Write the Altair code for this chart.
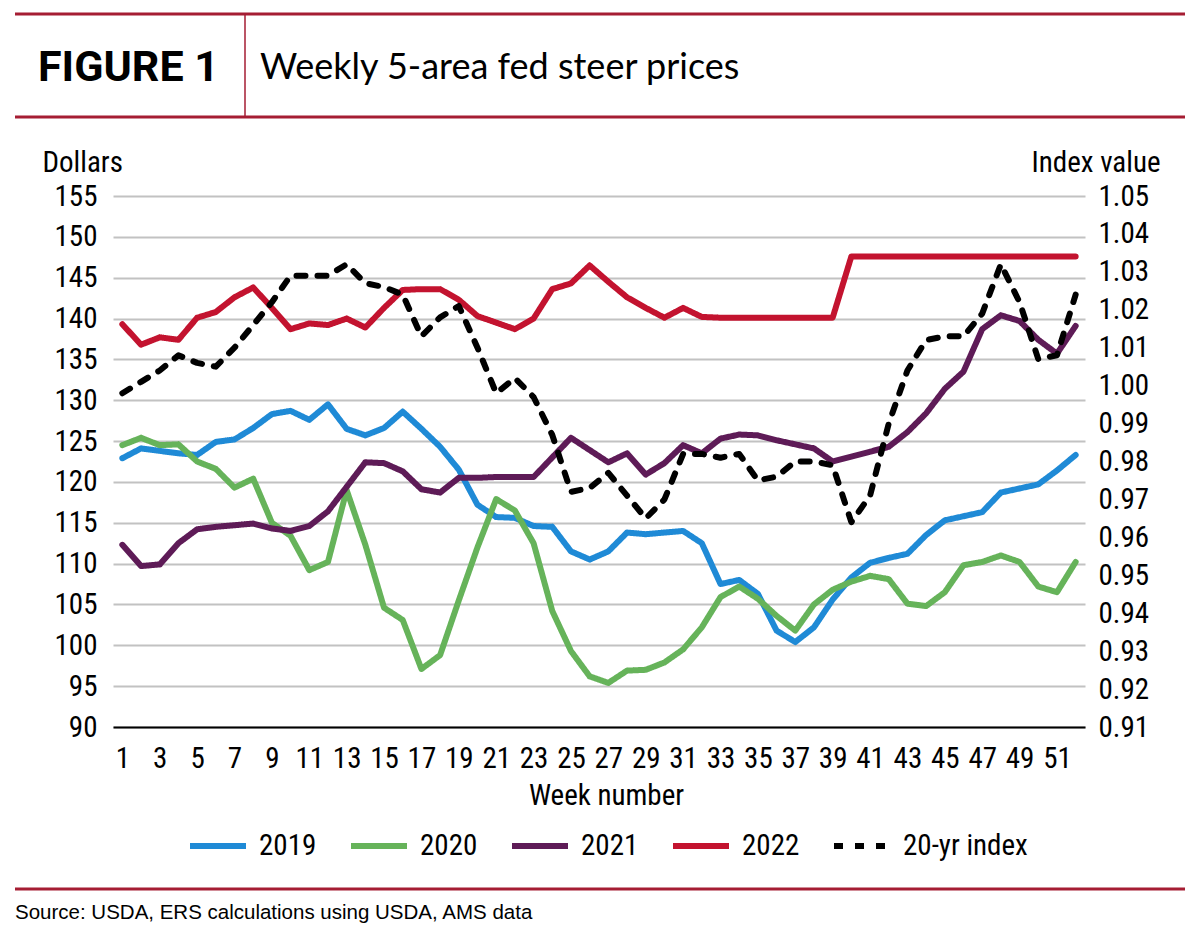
import altair as alt
import pandas as pd

# ---------------- data ----------------
weeks = list(range(1, 53))

prices_2019 = [122.9, 124.1, 123.8, 123.5, 123.3, 124.9, 125.2, 126.6, 128.3, 128.7,
               127.6, 129.5, 126.5, 125.7, 126.6, 128.6, 126.5, 124.3, 121.5, 117.2,
               115.7, 115.6, 114.6, 114.5, 111.5, 110.5, 111.5, 113.8, 113.6, 113.8,
               114.0, 112.5, 107.5, 108.0, 106.3, 101.8, 100.4, 102.2, 105.6, 108.3,
               110.1, 110.7, 111.2, 113.5, 115.3, 115.8, 116.3, 118.7, 119.2, 119.7,
               121.4, 123.3]
prices_2020 = [124.5, 125.4, 124.5, 124.6, 122.5, 121.6, 119.3, 120.4, 115.0, 113.4,
               109.2, 110.2, 119.0, 112.3, 104.6, 103.1, 97.1, 98.8, 105.5, 112.0,
               117.9, 116.5, 112.5, 104.2, 99.3, 96.2, 95.4, 96.9, 97.0, 97.9,
               99.5, 102.2, 105.9, 107.2, 105.7, 103.6, 101.8, 105.0, 106.8, 107.8,
               108.5, 108.1, 105.1, 104.8, 106.5, 109.8, 110.2, 111.0, 110.2, 107.2,
               106.5, 110.2]
prices_2021 = [112.3, 109.7, 109.9, 112.5, 114.2, 114.5, 114.7, 114.9, 114.3, 114.0,
               114.6, 116.4, 119.4, 122.4, 122.3, 121.3, 119.1, 118.7, 120.5, 120.5,
               120.6, 120.6, 120.6, 123.0, 125.4, 123.9, 122.4, 123.5, 120.9, 122.3,
               124.5, 123.5, 125.3, 125.8, 125.7, 125.1, 124.6, 124.1, 122.5, 123.1,
               123.7, 124.3, 126.1, 128.4, 131.4, 133.5, 138.7, 140.4, 139.7, 137.4,
               135.7, 139.1]
prices_2022 = [139.3, 136.8, 137.7, 137.4, 140.1, 140.8, 142.6, 143.8, 141.3, 138.7,
               139.4, 139.2, 140.0, 138.9, 141.3, 143.5, 143.6, 143.6, 142.3, 140.3,
               139.5, 138.7, 140.0, 143.6, 144.3, 146.5, 144.5, 142.6, 141.3, 140.1,
               141.3, 140.2, 140.1, 140.1, 140.1, 140.1, 140.1, 140.1, 140.1, 147.6,
               147.6, 147.6, 147.6, 147.6, 147.6, 147.6, 147.6, 147.6, 147.6, 147.6,
               147.6, 147.6]
index_20yr = [0.998, 1.001, 1.004, 1.008, 1.006, 1.005, 1.010, 1.016, 1.022, 1.029,
              1.029, 1.029, 1.032, 1.027, 1.026, 1.024, 1.013, 1.018, 1.021, 1.010,
              0.998, 1.002, 0.997, 0.987, 0.972, 0.973, 0.977, 0.971, 0.965, 0.970,
              0.982, 0.982, 0.981, 0.982, 0.975, 0.976, 0.980, 0.980, 0.979, 0.964,
              0.971, 0.990, 1.004, 1.012, 1.013, 1.013, 1.019, 1.032, 1.022, 1.007,
              1.008, 1.024]

series_names = ["2019", "2020", "2021", "2022", "20-yr index"]
series_colors = ["#1f8ad6", "#66b35a", "#5e1b57", "#c3132f", "#000000"]
series_dashes = [[1, 0], [1, 0], [1, 0], [1, 0], [9, 12]]

week_ticks = [1, 3, 5, 7, 9, 11, 13, 15, 17, 19, 21, 23, 25, 27, 29, 31, 33, 35,
              37, 39, 41, 43, 45, 47, 49, 51]
dollar_ticks = [90, 95, 100, 105, 110, 115, 120, 125, 130, 135, 140, 145, 150, 155]
index_ticks = [0.91, 0.92, 0.93, 0.94, 0.95, 0.96, 0.97, 0.98, 0.99, 1.00,
               1.01, 1.02, 1.03, 1.04, 1.05]

title_left = "FIGURE 1"
title_right = "Weekly 5-area fed steer prices"
source_text = "Source: USDA, ERS calculations using USDA, AMS data"

# ---------------- tables ----------------
rows = []
for name, vals in zip(series_names[:4], [prices_2019, prices_2020, prices_2021, prices_2022]):
    for w, v in zip(weeks, vals):
        rows.append({"week": w, "series": name, "price": v})
price_df = pd.DataFrame(rows)
index_df = pd.DataFrame({"week": weeks, "series": series_names[4], "index": index_20yr})

# ---------------- layout ----------------
W, H = 972, 531
PAD = {"left": 113, "top": 196, "right": 1200 - 113 - W, "bottom": 935 - 196 - H}
AX_FONT = "Liberation Sans Narrow, Arial Narrow, Roboto Condensed, sans-serif"
FS = 29
HEADER_RED = "#a51d33"

color_scale = alt.Scale(domain=series_names, range=series_colors)
dash_scale = alt.Scale(domain=series_names, range=series_dashes)
legend = alt.Legend(orient="none", legendX=74, legendY=619, direction="horizontal",
                    title=None, symbolType="stroke", symbolSize=3136,
                    symbolStrokeWidth=6, labelFont=AX_FONT, labelFontSize=FS,
                    labelColor="black", labelOffset=10, columnPadding=22)

x_enc = alt.X("week:Q", scale=alt.Scale(domain=[0.5, 52.5], nice=False, zero=False),
              axis=alt.Axis(values=week_ticks, title="Week number", grid=False,
                            ticks=False, domain=True, domainColor="black",
                            domainWidth=2, labelPadding=17, labelFlush=False,
                            titleX=493, titleY=68, titleBaseline="middle"))

price_layer = alt.Chart(price_df).mark_line(
    strokeWidth=6, strokeJoin="round", strokeCap="round"
).encode(
    x=x_enc,
    y=alt.Y("price:Q", scale=alt.Scale(domain=[90, 155], nice=False, zero=False),
            axis=alt.Axis(values=dollar_ticks, title="Dollars", grid=True,
                          gridColor="#c2c2c2", gridWidth=2, ticks=False, domain=False,
                          labelPadding=16, titleAngle=0, titleX=-71, titleY=-34,
                          titleAlign="left", titleBaseline="middle")),
    color=alt.Color("series:N", scale=color_scale, legend=legend),
    strokeDash=alt.StrokeDash("series:N", scale=dash_scale, legend=legend),
)

index_layer = alt.Chart(index_df).mark_line(
    strokeWidth=6, strokeJoin="round", strokeCap="round"
).encode(
    x=x_enc,
    y=alt.Y("index:Q", scale=alt.Scale(domain=[0.91, 1.05], nice=False, zero=False),
            axis=alt.Axis(orient="right", values=index_ticks, format=".2f",
                          title="Index value", grid=False, ticks=False, domain=False,
                          labelPadding=13, titleAngle=0, titleX=75, titleY=-34,
                          titleAlign="right", titleBaseline="middle")),
    color=alt.Color("series:N", scale=color_scale, legend=legend),
    strokeDash=alt.StrokeDash("series:N", scale=dash_scale, legend=legend),
)

one = alt.Data(values=[{"k": 1}])

def hrule(y, width):
    return alt.Chart(one).mark_rule(color=HEADER_RED, strokeWidth=width).encode(
        x=alt.value(-98), x2=alt.value(1072), y=alt.value(y))

top_rule = hrule(-182, 3)
mid_rule = hrule(-79, 3)
bottom_rule = hrule(693, 3)
vert_rule = alt.Chart(one).mark_rule(color=HEADER_RED, strokeWidth=1.5).encode(
    x=alt.value(132), y=alt.value(-182), y2=alt.value(-79))

fig_label = alt.Chart(one).mark_text(
    text=title_left, font="Liberation Sans Narrow, Roboto, sans-serif", fontSize=43,
    fontWeight="bold", align="left", baseline="middle", color="black"
).encode(x=alt.value(-75), y=alt.value(-128))

subtitle = alt.Chart(one).mark_text(
    text=title_right, font="Lato, Open Sans, sans-serif", fontSize=36,
    align="left", baseline="middle", color="black"
).encode(x=alt.value(147), y=alt.value(-128))

source = alt.Chart(one).mark_text(
    text=source_text, font="Liberation Sans, Arial, sans-serif", fontSize=20.5,
    align="left", baseline="middle", color="black"
).encode(x=alt.value(-98), y=alt.value(717))

chart = alt.layer(
    price_layer, index_layer,
    top_rule, mid_rule, bottom_rule, vert_rule, fig_label, subtitle, source
).resolve_scale(y="independent").properties(
    width=W, height=H, padding=PAD,
    autosize=alt.AutoSizeParams(type="none"),
    background="white",
).configure_view(stroke=None).configure_axis(
    labelFont=AX_FONT, titleFont=AX_FONT, labelFontSize=FS, titleFontSize=FS,
    labelColor="black", titleColor="black", titleFontWeight="normal",
)

chart.save("out.html", embed_options={"renderer": "svg", "actions": False})
